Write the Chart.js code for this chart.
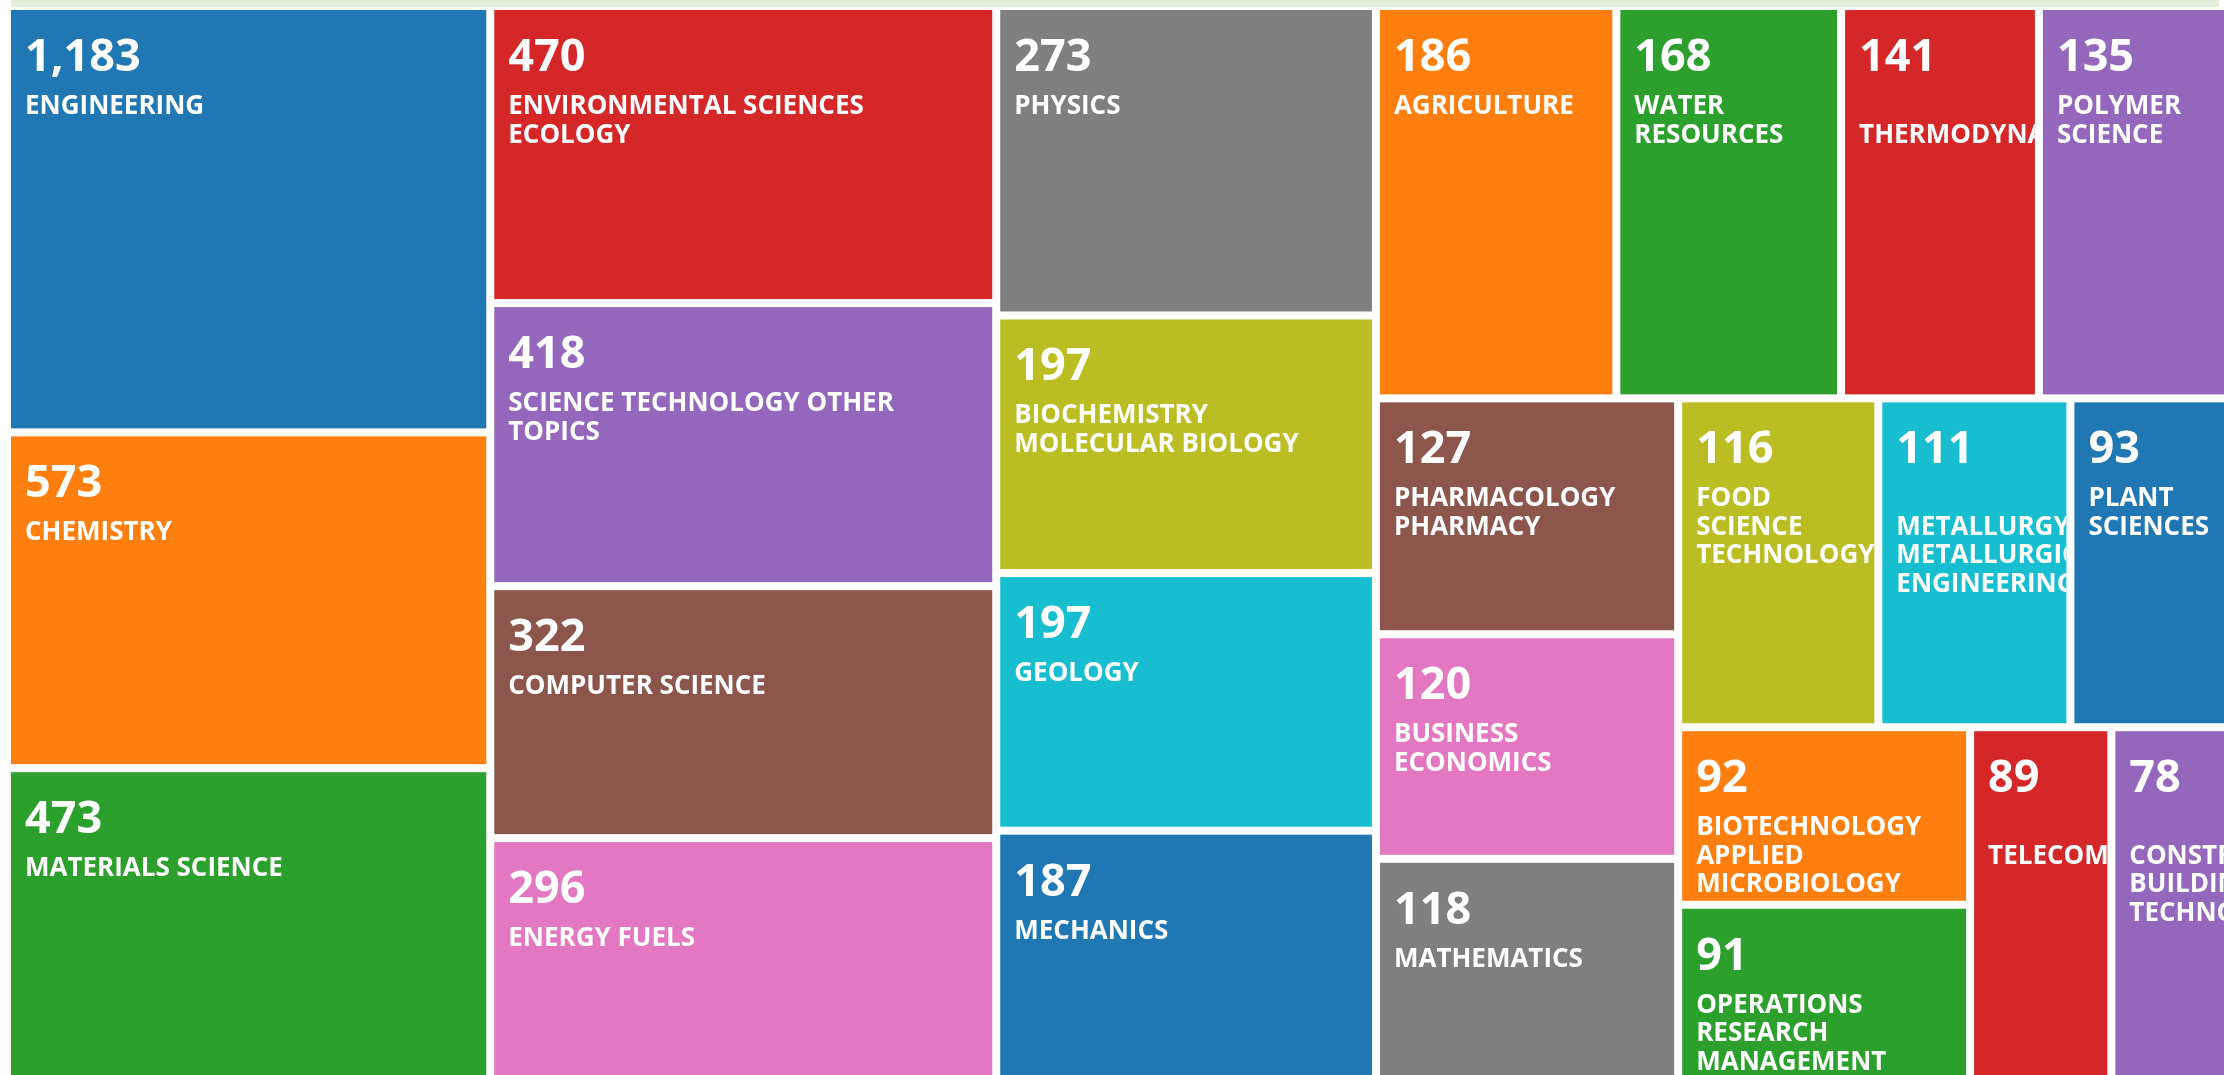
<!DOCTYPE html>
<html>
<head>
<meta charset="utf-8">
<title>Research areas treemap</title>
<script src="https://cdn.jsdelivr.net/npm/chart.js@4.4.1/dist/chart.umd.min.js"></script>
<style>
  html, body { margin: 0; padding: 0; background: #fff; overflow: hidden; }
  .topbar { position: absolute; left: 11px; top: 0; width: 2208px; height: 7px; background: #e2eed9; }
  .chart-wrap { position: absolute; left: 0; top: 0; width: 2230px; height: 1080px; }
</style>
</head>
<body>
<div class="topbar"></div>
<div class="chart-wrap"><canvas id="treemap"></canvas></div>
<script>
// Research areas and record counts, largest first
const categories = [
  "ENGINEERING", "CHEMISTRY", "MATERIALS SCIENCE",
  "ENVIRONMENTAL SCIENCES ECOLOGY", "SCIENCE TECHNOLOGY OTHER TOPICS", "COMPUTER SCIENCE", "ENERGY FUELS",
  "PHYSICS", "BIOCHEMISTRY MOLECULAR BIOLOGY", "GEOLOGY", "MECHANICS",
  "AGRICULTURE", "WATER RESOURCES", "THERMODYNAMICS", "POLYMER SCIENCE",
  "PHARMACOLOGY PHARMACY", "BUSINESS ECONOMICS", "MATHEMATICS",
  "FOOD SCIENCE TECHNOLOGY", "METALLURGY METALLURGICAL ENGINEERING", "PLANT SCIENCES",
  "BIOTECHNOLOGY APPLIED MICROBIOLOGY", "OPERATIONS RESEARCH MANAGEMENT SCIENCE",
  "TELECOMMUNICATIONS", "CONSTRUCTION BUILDING TECHNOLOGY",
]
const records = [
  1183, 573, 473,
  470, 418, 322, 296,
  273, 197, 197, 187,
  186, 168, 141, 135,
  127, 120, 118,
  116, 111, 93,
  92, 91,
  89, 78,
]
const palette = ["#1f77b4", "#ff7f0e", "#2ca02c", "#d62728", "#9467bd", "#8c564b", "#e377c2", "#7f7f7f", "#bcbd22", "#17becf"]

// tile areas follow a log scale of the counts
function tileWeights(values) {
  const base = Math.min(...values) / 2
  return values.map((v) => Math.log(v / base))
}

// squarified layout (golden ratio), same steps as d3.treemapSquarify
function squarify(nodes, x0, y0, x1, y1) {
  const ratio = (1 + Math.sqrt(5)) / 2
  const n = nodes.length
  let value = nodes.reduce((s, d) => s + d.weight, 0)
  let i0 = 0
  let i1 = 0
  while (i0 < n) {
    const dx = x1 - x0
    const dy = y1 - y0
    let sumValue = nodes[i1++].weight
    let minValue = sumValue
    let maxValue = sumValue
    const alpha = Math.max(dy / dx, dx / dy) / (value * ratio)
    let beta = sumValue * sumValue * alpha
    let minRatio = Math.max(maxValue / beta, beta / minValue)
    for (; i1 < n; ++i1) {
      const nodeValue = nodes[i1].weight
      sumValue += nodeValue
      if (nodeValue < minValue) minValue = nodeValue
      if (nodeValue > maxValue) maxValue = nodeValue
      beta = sumValue * sumValue * alpha
      const newRatio = Math.max(maxValue / beta, beta / minValue)
      if (newRatio > minRatio) {
        sumValue -= nodeValue
        break
      }
      minRatio = newRatio
    }
    const row = nodes.slice(i0, i1)
    if (dx < dy) {
      const yb = y0 + (dy * sumValue) / value
      let x = x0
      row.forEach((d) => {
        d.x0 = x
        x += ((x1 - x0) * d.weight) / sumValue
        d.x1 = x
        d.y0 = y0
        d.y1 = yb
      })
      y0 = yb
    } else {
      const xb = x0 + (dx * sumValue) / value
      let y = y0
      row.forEach((d) => {
        d.x0 = x0
        d.x1 = xb
        d.y0 = y
        y += ((y1 - y0) * d.weight) / sumValue
        d.y1 = y
      })
      x0 = xb
    }
    value -= sumValue
    i0 = i1
  }
  return nodes
}

function wrapLabel(ctx, text, maxWidth) {
  const words = text.split(" ")
  const lines = []
  let line = []
  words.forEach((word) => {
    line.push(word)
    if (ctx.measureText(line.join(" ")).width > maxWidth) {
      line.pop()
      lines.push(line.join(" "))
      line = [word]
    }
  })
  lines.push(line.join(" "))
  return lines
}

const treemapPlugin = {
  id: "treemapCells",
  beforeDatasetsDraw(chart) {
    const { ctx } = chart
    const xs = chart.scales.x
    const ys = chart.scales.y
    const weights = tileWeights(records)
    const nodes = categories.map((name, i) => ({ name, value: records[i], weight: weights[i], color: palette[i % palette.length] }))
    squarify(nodes, xs.getPixelForValue(0), ys.getPixelForValue(0), xs.getPixelForValue(1), ys.getPixelForValue(1))

    const gap = 4
    nodes.forEach((d) => {
      const x = d.x0 + gap
      const y = d.y0 + gap
      const w = d.x1 - d.x0 - gap * 2
      const h = d.y1 - d.y0 - gap * 2
      ctx.save()
      ctx.fillStyle = d.color
      ctx.fillRect(x, y, w, h)
      ctx.beginPath()
      ctx.rect(x, y, w, h)
      ctx.clip()
      ctx.fillStyle = "#ffffff"
      ctx.textBaseline = "alphabetic"
      ctx.textAlign = "left"
      ctx.font = '700 45px "Open Sans"'
      ctx.fillText(d.value.toLocaleString("en-US"), x + 14, y + 61)
      ctx.font = '700 26px "Open Sans"'
      wrapLabel(ctx, d.name, w - 40).forEach((line, i) => {
        ctx.fillText(line, x + 14, y + 104 + i * 28.5)
      })
      ctx.restore()
    })
  },
}

new Chart(document.getElementById("treemap"), {
  type: "scatter",
  data: { datasets: [{ label: "Records", data: [] }] },
  options: {
    responsive: true,
    maintainAspectRatio: false,
    animation: false,
    layout: { padding: { left: 7, top: 6, right: 0, bottom: 0 } },
    plugins: { legend: { display: false }, tooltip: { enabled: false } },
    scales: {
      x: { type: "linear", min: 0, max: 1, display: false },
      y: { type: "linear", min: 0, max: 1, reverse: true, display: false },
    },
  },
  plugins: [treemapPlugin],
})
</script>
</body>
</html>
